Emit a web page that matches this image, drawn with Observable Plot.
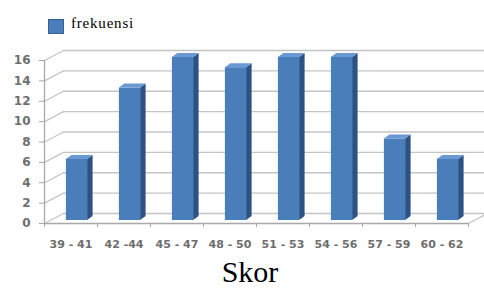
<!DOCTYPE html>
<html>
<head>
<meta charset="utf-8">
<script src="https://cdn.jsdelivr.net/npm/d3@7"></script>
<script src="https://cdn.jsdelivr.net/npm/@observablehq/plot@0.6"></script>
<style>
  html, body { margin: 0; padding: 0; background: #fff; }
  #wrap { position: relative; width: 484px; height: 289px; overflow: hidden; }
  #legend { position: absolute; left: 48px; top: 12px; font-family: "Liberation Serif", "Times New Roman", serif; font-size: 15px; letter-spacing: 0.8px; color: #000; display: flex; align-items: center; }
  #legend .sw { width: 14px; height: 13px; background: #4a7ebb; border: 1px solid #35608f; margin-right: 7px; margin-top: 7px; }
  #title { position: absolute; left: 0; width: 500px; text-align: center; top: 257px; font-family: "Liberation Serif", "Times New Roman", serif; font-size: 30px; line-height: 30px; color: #000; }
</style>
</head>
<body>
<div id="wrap">
  <div id="chart"></div>
  <div id="legend"><span class="sw"></span><span id="legendText"></span></div>
  <div id="title"></div>
</div>
<script>
// Data
const categories = ["39 - 41", "42 -44", "45 - 47", "48 - 50", "51 - 53", "54 - 56", "57 - 59", "60 - 62"];
const frekuensi = [6, 13, 16, 15, 16, 16, 8, 6];
const yTicks = [0, 2, 4, 6, 8, 10, 12, 14, 16];
const seriesName = "frekuensi";
const axisTitle = "Skor";

document.getElementById("legendText").textContent = seriesName;
document.getElementById("title").textContent = axisTitle;

// Styling constants
const frontColor = "#4a7ebb";
const sideColor = "#2c5283";
const topColor = "#6a98d2";
const gridColor = "#c4c4c4";
const labelColor = "#6e6e6e";

// Depth conversions (pixels -> data units)
const pxX = 1 / 53;      // x units per pixel
const pxY = 16 / 163;    // y units per pixel
const wallDX = 19, wallDY = 10;
const half = 0.2;
const sideW = 5.5 * pxX, sideH = 4 * pxY;

const bars = frekuensi.map((v, i) => ({i, v, cat: categories[i]}));
const sideData = bars.flatMap(d => [
  {i: d.i, x: d.i + half, y1: 0, y2: d.v},
  {i: d.i, x: d.i + half + sideW, y1: sideH, y2: d.v + sideH}
]);
const topData = bars.flatMap(d => [
  {i: d.i, x: d.i - half, y1: d.v, y2: d.v},
  {i: d.i, x: d.i - half + sideW, y1: d.v, y2: d.v + sideH},
  {i: d.i, x: d.i + half, y1: d.v, y2: d.v + sideH},
  {i: d.i, x: d.i + half + sideW, y1: d.v + sideH, y2: d.v + sideH}
]);
const boundaries = d3.range(-0.5, categories.length, 1);

const chart = Plot.plot({
  width: 484,
  height: 289,
  marginLeft: 44,
  marginRight: 16,
  marginTop: 60,
  marginBottom: 66,
  x: {type: "linear", domain: [-0.5, categories.length - 0.5]},
  y: {domain: [0, 16]},
  style: {background: "transparent", overflow: "visible"},
  marks: [
    Plot.ruleY(yTicks, {y: d => d, x1: -0.5, x2: categories.length - 0.5, dx: wallDX, dy: -wallDY, stroke: gridColor, strokeWidth: 1.3}),
    Plot.link(yTicks, {x1: -0.5, y1: d => d, x2: -0.5 + wallDX * pxX, y2: d => d + wallDY * pxY, stroke: gridColor, strokeWidth: 1.3}),
    Plot.link([0], {x1: categories.length - 0.5, y1: 0, x2: categories.length - 0.5 + wallDX * pxX, y2: wallDY * pxY, stroke: gridColor, strokeWidth: 1.3}),
    Plot.ruleY([0], {x1: -0.5, x2: categories.length - 0.5, stroke: "#a8a8a8", strokeWidth: 1.3}),
    Plot.ruleX(boundaries, {x: d => d, y1: 0, y2: -0.4, stroke: "#a8a8a8"}),
    Plot.ruleX([-0.5], {y1: 0, y2: 16, stroke: "#a8a8a8", strokeWidth: 1.3}),
    Plot.areaY(sideData, {x: "x", y1: "y1", y2: "y2", z: "i", fill: sideColor, dx: 6, dy: -3}),
    Plot.rect(bars, {x1: d => d.i - half, x2: d => d.i + half, y1: 0, y2: "v", fill: frontColor, dx: 6, dy: -3}),
    Plot.areaY(topData, {x: "x", y1: "y1", y2: "y2", z: "i", fill: topColor, dx: 6, dy: -3}),
    Plot.axisY(yTicks, {tickSize: 5, tickPadding: 9, stroke: "#a8a8a8", fill: labelColor, fontSize: 12, fontWeight: "bold", fontFamily: "DejaVu Sans, Verdana, sans-serif", label: null}),
    Plot.axisX(d3.range(categories.length), {tickSize: 0, tickPadding: 17, tickFormat: i => categories[i], fill: labelColor, fontSize: 11, fontWeight: "bold", fontFamily: "DejaVu Sans, Verdana, sans-serif", label: null})
  ]
});
document.getElementById("chart").appendChild(chart);
</script>
</body>
</html>
